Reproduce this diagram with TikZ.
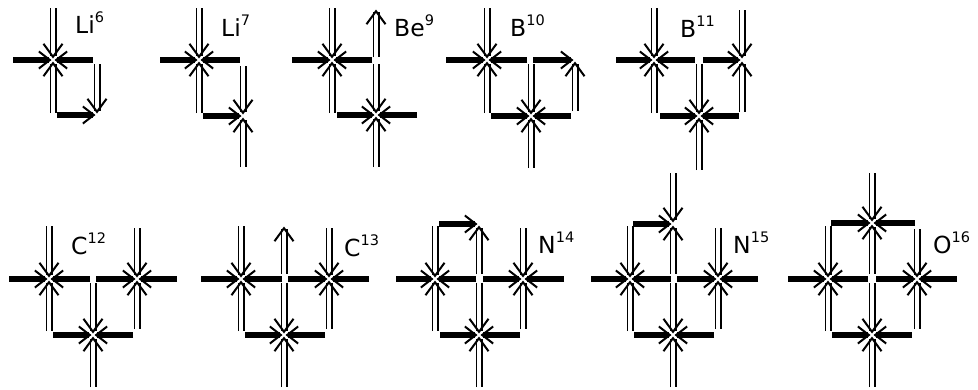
\documentclass[tikz,border=0pt]{standalone}
\usepackage{fontspec}
\setmainfont{DejaVu Sans}
\usetikzlibrary{arrows.meta}
\newcommand{\isotope}[2]{#1\raisebox{10.5pt}{\fontsize{14.5}{14.5}\selectfont #2}}
\tikzset{
	thickarrow/.style={line width=5.4pt,shorten >=1.5pt,-{Straight Barb[length=11pt,width=17pt,line width=2pt]}},
	doublearrow/.style={double,double distance=3.8pt,line width=1.6pt,shorten >=1.5pt,-{Straight Barb[length=13pt,width=19pt,line width=2pt]}},
	isolabel/.style={anchor=base west,inner sep=0pt,font=\fontsize{23.5}{23.5}\selectfont}
}
\begin{document}
\begin{tikzpicture}[x=1pt,y=-1pt]
	\useasboundingbox (0,0) rectangle (978,389);
	% Các đỉnh (và hai đầu mũi tên đi lên)
	\foreach \vname/\x/\y in {
		liA/53/60,liB/97/115,
		lisA/199/60,lisB/243/116,
		beA/332/60,beB/376/115,beC/376/8,
		boA/487/60,boB/531/116,boC/575/60,
		bsA/654/60,bsB/699/116,bsC/742/60,
		cA/49/279,cB/137/279,cC/93/335,
		ctA/241/279,ctB/329/279,ctC/284/335,ctD/284/225,
		nA/435/279,nB/523/279,nC/479/335,nD/479/224,
		nsA/630/279,nsB/718/279,nsC/673/335,nsD/673/224,
		oA/828/279,oB/917/279,oC/872/335,oD/872/223}
		\coordinate (\vname) at (\x,\y);
	% Mũi tên kép
	\foreach \vname/\x/\y [count=\i] in {
		liA/53/8,liA/53/113,liB/97/64,
		lisA/199/8,lisA/199/113,lisB/243/66,lisB/243/167,
		beA/332/8,beA/332/113,beB/376/64,beB/376/167,beC/376/57,
		boA/487/8,boA/487/113,boB/531/64,boB/531/168,boC/575/111,
		bsA/654/8,bsA/654/113,bsB/699/64,bsB/699/170,bsC/742/10,bsC/742/112,
		cA/49/226,cA/49/331,cB/137/228,cB/137/329,cC/93/283,cC/93/387,
		ctA/241/226,ctA/241/331,ctB/329/228,ctB/329/329,ctC/284/283,ctC/284/387,ctD/284/274,
		nA/435/226,nA/435/331,nB/523/228,nB/523/329,nC/479/283,nC/479/387,nD/479/274,
		nsA/630/226,nsA/630/331,nsB/718/228,nsB/718/329,nsC/673/283,nsC/673/387,nsD/673/173,nsD/673/274,
		oA/828/226,oA/828/331,oB/917/229,oB/917/329,oC/872/283,oC/872/387,oD/872/173,oD/872/274}
	{
		\coordinate (dstart\i) at (\x,\y);
		\draw[doublearrow] (dstart\i) -- (\vname);
	}
	% Mũi tên đậm
	\foreach \vname/\x/\y [count=\i] in {
		liA/13/60,liA/93/60,liB/57/115,
		lisA/160/60,lisA/240/60,lisB/203/116,
		beA/292/60,beA/372/60,beB/337/115,beB/417/115,
		boA/446/60,boA/527/60,boB/491/116,boB/571/116,boC/533/60,
		bsA/616/60,bsA/695/60,bsB/660/116,bsB/739/116,bsC/703/60,
		cA/9/279,cA/90/279,cB/96/279,cB/177/279,cC/53/335,cC/133/335,
		ctA/201/279,ctA/282/279,ctB/288/279,ctB/369/279,ctC/245/335,ctC/325/335,
		nA/396/279,nA/476/279,nB/483/279,nB/564/279,nC/440/335,nC/520/335,nD/439/224,
		nsA/591/279,nsA/671/279,nsB/677/279,nsB/758/279,nsC/634/335,nsC/714/335,nsD/633/224,
		oA/788/279,oA/868/279,oB/876/279,oB/957/279,oC/832/335,oC/912/335,oD/831/223,oD/915/223}
	{
		\coordinate (tstart\i) at (\x,\y);
		\draw[thickarrow] (tstart\i) -- (\vname);
	}
	% Nhãn
	\node[isolabel] (lisix) at (75,33) {\isotope{Li}{6}};
	\node[isolabel] (liseven) at (221,36) {\isotope{Li}{7}};
	\node[isolabel] (benine) at (394,36) {\isotope{Be}{9}};
	\node[isolabel] (bten) at (510,36) {\isotope{B}{10}};
	\node[isolabel] (beleven) at (680,37) {\isotope{B}{11}};
	\node[isolabel] (ctwelve) at (71,254) {\isotope{C}{12}};
	\node[isolabel] (cthirteen) at (344,256) {\isotope{C}{13}};
	\node[isolabel] (nfourteen) at (538,253) {\isotope{N}{14}};
	\node[isolabel] (nfifteen) at (733,253) {\isotope{N}{15}};
	\node[isolabel] (osixteen) at (933,253) {\isotope{O}{16}};
\end{tikzpicture}
\end{document}
